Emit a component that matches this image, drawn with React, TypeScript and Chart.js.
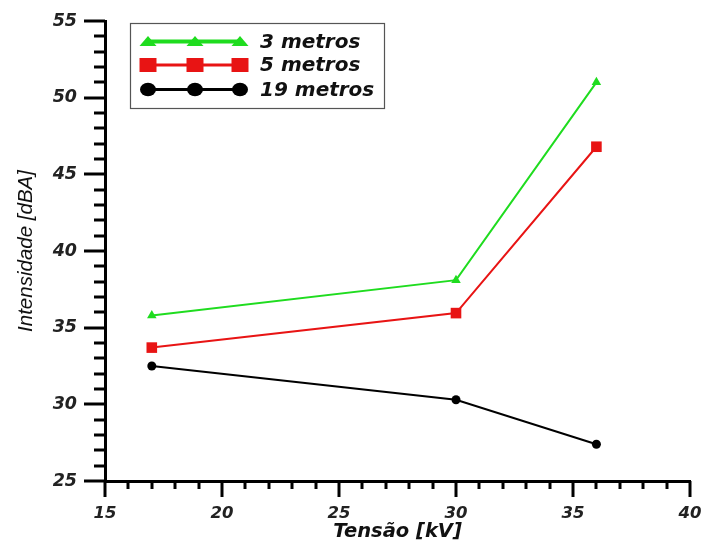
import React, { useEffect, useRef } from "react";
import { Chart, registerables } from "chart.js";

Chart.register(...registerables);

const voltages = [17, 30, 36];
const series3m = [35.8, 38.1, 51.0];
const series5m = [33.7, 35.95, 46.8];
const series19m = [32.5, 30.3, 27.4];
const seriesLabels = ["3 metros", "5 metros", "19 metros"];
const yTicksMajor = [25, 30, 35, 40, 45, 50, 55];
const xTicksMajor = [15, 20, 25, 30, 35, 40];

const FONT = "'Liberation Sans', Arial, sans-serif";
const WIDE = "'DejaVu Sans', sans-serif";
const GREEN = "#1fdc1f";
const RED = "#e81414";
const BLACK = "#000000";

const tickPlugin = {
  id: "customTicks",
  afterDraw(chart: any) {
    const ctx = chart.ctx;
    const xs = chart.scales.x;
    const ys = chart.scales.y;
    const area = chart.chartArea;
    ctx.save();
    ctx.strokeStyle = "#000";
    ctx.lineWidth = 3;
    for (let v = ys.min; v <= ys.max; v += 1) {
      const py = Math.round(ys.getPixelForValue(v));
      const len = yTicksMajor.includes(v) ? 21 : 11;
      ctx.beginPath();
      ctx.moveTo(area.left - len, py);
      ctx.lineTo(area.left, py);
      ctx.stroke();
    }
    for (let v = xs.min; v <= xs.max; v += 1) {
      const px = Math.round(xs.getPixelForValue(v));
      const len = xTicksMajor.includes(v) ? 16 : 8;
      ctx.beginPath();
      ctx.moveTo(px, area.bottom);
      ctx.lineTo(px, area.bottom + len);
      ctx.stroke();
    }
    ctx.restore();
  },
};

const legendPlugin = {
  id: "customLegend",
  afterDraw(chart: any) {
    const ctx = chart.ctx;
    ctx.save();
    const bx = 130, by = 23, bw = 254, bh = 85;
    ctx.strokeStyle = "#555";
    ctx.lineWidth = 1.2;
    ctx.strokeRect(bx + 0.5, by + 0.5, bw, bh);
    const rows = [41.5, 65, 89.5];
    const mx = [148, 195, 240];
    chart.data.datasets.forEach((ds: any, i: number) => {
      const y = rows[i];
      ctx.strokeStyle = ds.borderColor;
      ctx.fillStyle = ds.backgroundColor;
      ctx.lineWidth = i === 0 ? 4 : 3;
      ctx.beginPath();
      ctx.moveTo(mx[0], y);
      ctx.lineTo(mx[2], y);
      ctx.stroke();
      mx.forEach((x) => {
        ctx.beginPath();
        if (i === 0) {
          ctx.moveTo(x - 8.5, y + 4.5);
          ctx.lineTo(x + 8.5, y + 4.5);
          ctx.lineTo(x, y - 5.5);
          ctx.closePath();
        } else if (i === 1) {
          ctx.rect(x - 8.5, y - 7, 17, 14);
        } else {
          ctx.ellipse(x, y, 8, 6.8, 0, 0, Math.PI * 2);
        }
        ctx.fill();
      });
      ctx.fillStyle = "#111";
      ctx.font = `italic bold 20px ${WIDE}`;
      ctx.textBaseline = "middle";
      ctx.textAlign = "left";
      ctx.fillText(ds.label, 260, y + 1);
    });
    ctx.restore();
  },
};

export default function App() {
  const ref = useRef<HTMLCanvasElement>(null);
  useEffect(() => {
    document.body.style.margin = "0";
    const mk = (vals: number[]) => voltages.map((x, i) => ({ x, y: vals[i] }));
    const yTickFont = { family: WIDE, size: 17.5, style: "italic" as const, weight: "bold" as const };
    const xTickFont = { family: WIDE, size: 16.5, style: "italic" as const, weight: "bold" as const };
    const chart = new Chart(ref.current!, {
      type: "line",
      data: {
        datasets: [
          {
            label: seriesLabels[0],
            data: mk(series3m),
            borderColor: GREEN,
            backgroundColor: GREEN,
            borderWidth: 2,
            pointStyle: "triangle",
            pointRadius: 5.5,
            pointBorderWidth: 0,
          },
          {
            label: seriesLabels[1],
            data: mk(series5m),
            borderColor: RED,
            backgroundColor: RED,
            borderWidth: 2,
            pointStyle: "rect",
            pointRadius: 7.5,
            pointBorderWidth: 0,
          },
          {
            label: seriesLabels[2],
            data: mk(series19m),
            borderColor: BLACK,
            backgroundColor: BLACK,
            borderWidth: 2,
            pointStyle: "circle",
            pointRadius: 4.5,
            pointBorderWidth: 0,
          },
        ],
      },
      options: {
        responsive: false,
        animation: false,
        devicePixelRatio: 1,
        layout: { padding: { left: 0, right: 14, top: 21, bottom: 0 } },
        plugins: { legend: { display: false }, tooltip: { enabled: false } },
        scales: {
          x: {
            type: "linear",
            min: 15,
            max: 40,
            ticks: { stepSize: 5, font: xTickFont, color: "#222", padding: 7, maxRotation: 0 },
            grid: { display: true, drawOnChartArea: false, drawTicks: true, tickLength: 16, tickColor: "transparent" },
            border: { display: true, color: "#000", width: 3 },
            title: {
              display: true,
              text: "Tensão [kV]",
              color: "#111",
              font: { family: WIDE, size: 19.5, style: "italic", weight: "bold" },
              padding: { top: 0, bottom: 0 },
            },
            afterFit: (s: any) => {
              s.height = 63;
              s.paddingLeft = 0;
              s.paddingRight = 0;
            },
          },
          y: {
            type: "linear",
            min: 25,
            max: 55,
            ticks: { stepSize: 5, font: yTickFont, color: "#222", padding: 7 },
            grid: { display: true, drawOnChartArea: false, drawTicks: true, tickLength: 21, tickColor: "transparent" },
            border: { display: true, color: "#000", width: 3 },
            title: {
              display: true,
              text: "Intensidade [dBA]",
              color: "#111",
              font: { family: FONT, size: 20.5, style: "italic", weight: "normal" },
              padding: { top: 14, bottom: 0 },
            },
            afterFit: (s: any) => {
              s.width = 105;
              s.paddingTop = 0;
              s.paddingBottom = 0;
            },
          },
        },
      },
      plugins: [tickPlugin, legendPlugin],
    });
    return () => chart.destroy();
  }, []);
  return (
    <div style={{ width: 704, height: 544, background: "#fff" }}>
      <canvas ref={ref} width={704} height={544} style={{ display: "block" }} />
    </div>
  );
}
